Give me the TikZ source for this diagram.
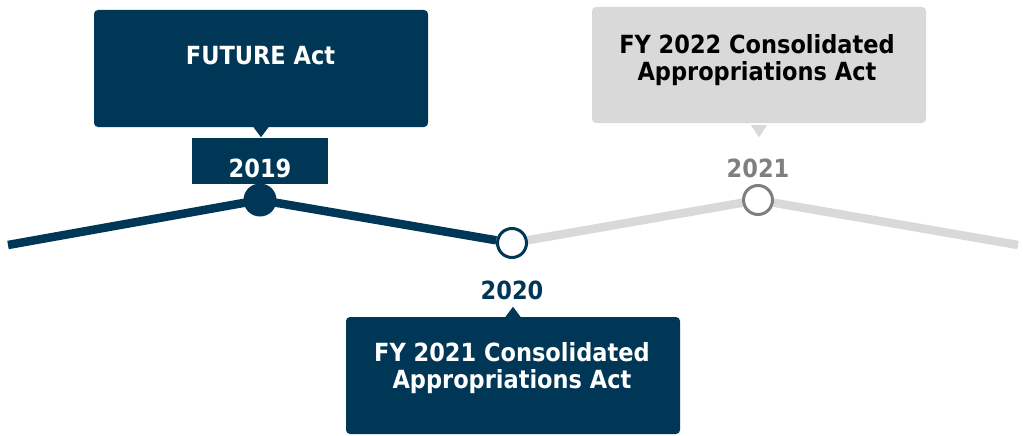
\documentclass[tikz,border=0pt]{standalone}
\usepackage{fontspec}
\setmainfont{DejaVu Sans Condensed}
\usepackage{tikz}
\usetikzlibrary{positioning}
\definecolor{navy}{RGB}{0,54,86}
\definecolor{lightgrey}{RGB}{217,217,217}
\definecolor{midgrey}{RGB}{127,127,127}

\begin{document}
\begin{tikzpicture}[x=1pt, y=-1pt,
    box/.style={rectangle, rounded corners=4pt, minimum width=334pt, minimum height=117pt, inner sep=0pt},
    txt/.style={font=\bfseries\fontsize{25}{27}\selectfont, align=center},
    yr/.style={font=\bfseries\fontsize{25}{27}\selectfont},
    dot/.style={circle, minimum size=29pt, inner sep=0pt, line width=3pt}]
    \useasboundingbox (0,0) rectangle (1023,436);

    % timeline
    \coordinate (start) at (8,245);
    \coordinate (stop) at (1018,245);
    \node[dot, minimum size=33pt] (d19) at (260,200) {};
    \node[dot] (d20) at (512,243) {};
    \node[dot] (d21) at (758,200) {};
    \draw[navy, line width=8.5pt] (start) -- (d19.center) -- (d20);
    \draw[lightgrey, line width=8.5pt] (d20) -- (d21) -- (stop);
    \node[dot, minimum size=33pt, fill=navy] at (d19) {};
    \node[dot, draw=navy, fill=white] at (d20) {};
    \node[dot, draw=midgrey, fill=white] at (d21) {};

    % 2019
    \node[box, fill=navy] (future) at (261,68.5) {};
    \node[txt, text=white] (futuretxt) at (260.5,56) {FUTURE Act};
    \fill[navy] ([xshift=-7.5pt]future.south) -- ([xshift=7.5pt]future.south) -- ([yshift=-10pt]future.south) -- cycle;
    \node[rectangle, fill=navy, minimum width=136pt, minimum height=46pt] (y19box) at (260,161) {};
    \node[yr, text=white] (y19) at (260,168) {2019};

    % 2020
    \node[yr, text=navy] (y20) at (512,290) {2020};
    \node[box, fill=navy] (fy21) at (513,375.5) {};
    \node[txt, text=white] (fy21txt) at (512,368) {FY 2021 Consolidated\\Appropriations Act};
    \fill[navy] ([xshift=-7.5pt]fy21.north) -- ([xshift=7.5pt]fy21.north) -- ([yshift=10pt]fy21.north) -- cycle;

    % 2021
    \node[yr, text=midgrey] (y21) at (758,168) {2021};
    \node[box, fill=lightgrey, minimum height=116pt] (fy22) at (759,65) {};
    \node[txt, text=black] (fy22txt) at (757,60) {FY 2022 Consolidated\\Appropriations Act};
    \fill[lightgrey] ([xshift=-8pt,yshift=-2pt]fy22.south) -- ([xshift=8pt,yshift=-2pt]fy22.south) -- ([yshift=-14pt]fy22.south) -- cycle;
\end{tikzpicture}
\end{document}
